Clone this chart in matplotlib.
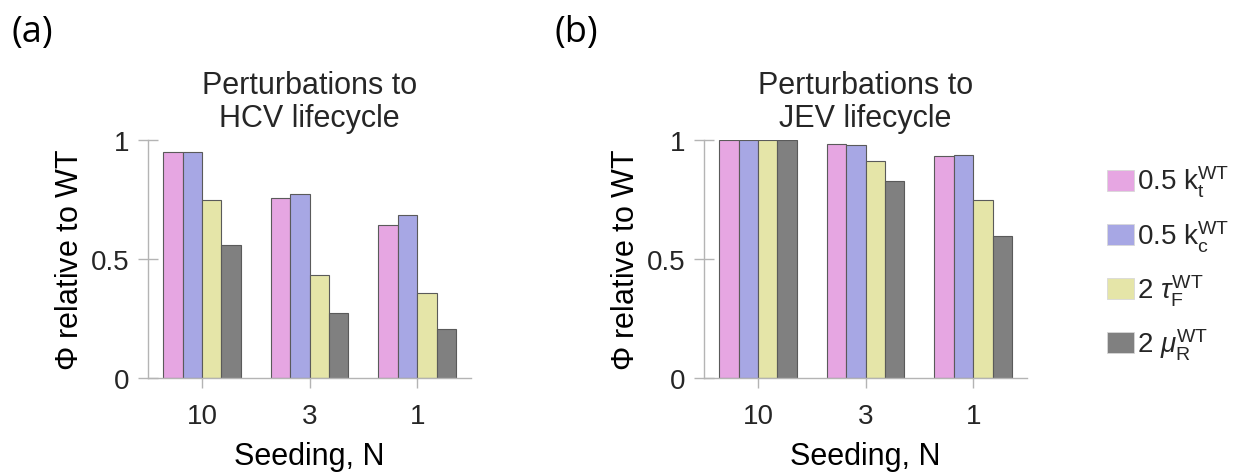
import numpy as np
import matplotlib as mpl
mpl.use('Agg')
from matplotlib import pyplot as plt

# data
seeding = ['10', '3', '1']
hcv_kt = [0.950, 0.756, 0.645]
hcv_kc = [0.948, 0.773, 0.685]
hcv_tau = [0.748, 0.433, 0.360]
hcv_mu = [0.560, 0.274, 0.207]
jev_kt = [1.000, 0.983, 0.933]
jev_kc = [1.000, 0.980, 0.938]
jev_tau = [1.000, 0.910, 0.748]
jev_mu = [1.000, 0.828, 0.599]
labels = [r'0.5 $\mathregular{k_t^{WT}}$', r'0.5 $\mathregular{k_c^{WT}}$',
          r'2 $\tau_{\mathregular{F}}^{\mathregular{WT}}$', r'2 $\mu_{\mathregular{R}}^{\mathregular{WT}}$']
colors = ['#e6a6e2', '#a7a7e4', '#e5e5a8', '#808080']

plt.rcParams['font.family'] = ['Liberation Sans', 'DejaVu Sans']
plt.rcParams['mathtext.fontset'] = 'custom'
plt.rcParams['mathtext.rm'] = 'Liberation Sans'
plt.rcParams['mathtext.it'] = 'Liberation Sans:italic'
plt.rcParams['text.color'] = '#262626'

W, H = 1236, 477
fig = plt.figure(figsize=(W/100, H/100), dpi=100)
ax1 = fig.add_axes([148.3/W, 1-379.3/H, 322.7/W, 238.3/H])
ax2 = fig.add_axes([704.3/W, 1-379.3/H, 322.7/W, 238.3/H])

x = np.arange(1, 4)
offsets = [-0.27, -0.09, 0.09, 0.27]
gridc = '#b4b4b4'

def draw(ax, series, title):
    handles = []
    for s, off, c in zip(series, offsets, colors):
        b = ax.bar(x + off, s, width=0.18, color=c, edgecolor='#5a5a5a', linewidth=0.8)
        handles.append(b)
    ax.set_xlim(0.5, 3.5)
    ax.set_ylim(0, 1)
    ax.set_xticks(x)
    ax.set_xticklabels(seeding)
    ax.set_yticks([0, 0.5, 1])
    ax.set_yticklabels(['0', '0.5', '1'])
    ax.set_axisbelow(True)
    for sp in ['top', 'right']:
        ax.spines[sp].set_visible(False)
    for sp in ['left', 'bottom']:
        ax.spines[sp].set_color(gridc)
        ax.spines[sp].set_linewidth(1)
    ax.tick_params(direction='inout', length=14, width=1, color=gridc, labelsize=20,
                   labelcolor='#262626')
    ax.tick_params(axis='y', pad=6.5)
    ax.tick_params(axis='x', pad=10.5)
    ax.set_xlabel('Seeding, N', fontsize=22, labelpad=9)
    ax.set_ylabel(r'$\Phi$ relative to WT', fontsize=22, labelpad=4.5)
    ax.set_title(title, fontsize=22, pad=10, linespacing=1.15)
    return handles

draw(ax1, [hcv_kt, hcv_kc, hcv_tau, hcv_mu], 'Perturbations to\nHCV lifecycle')
hs = draw(ax2, [jev_kt, jev_kc, jev_tau, jev_mu], 'Perturbations to\nJEV lifecycle')

leg = fig.legend(hs, labels, loc='center left', bbox_to_anchor=(1107/W, 1-264/H),
                 frameon=False, fontsize=20, handlelength=0.97, handleheight=0.8,
                 handletextpad=0.1, labelspacing=0.68, borderpad=0, borderaxespad=0)
for p in leg.get_patches():
    p.set_edgecolor('#d8d8d8')
    p.set_linewidth(0.6)

fig.text(12/W, 1-33/H, '(a)', fontsize=26, va='center', ha='left', family='Open Sans', color='black')
fig.text(555/W, 1-33/H, '(b)', fontsize=26, va='center', ha='left', family='Open Sans', color='black')

fig.savefig('out.png', dpi=100)
